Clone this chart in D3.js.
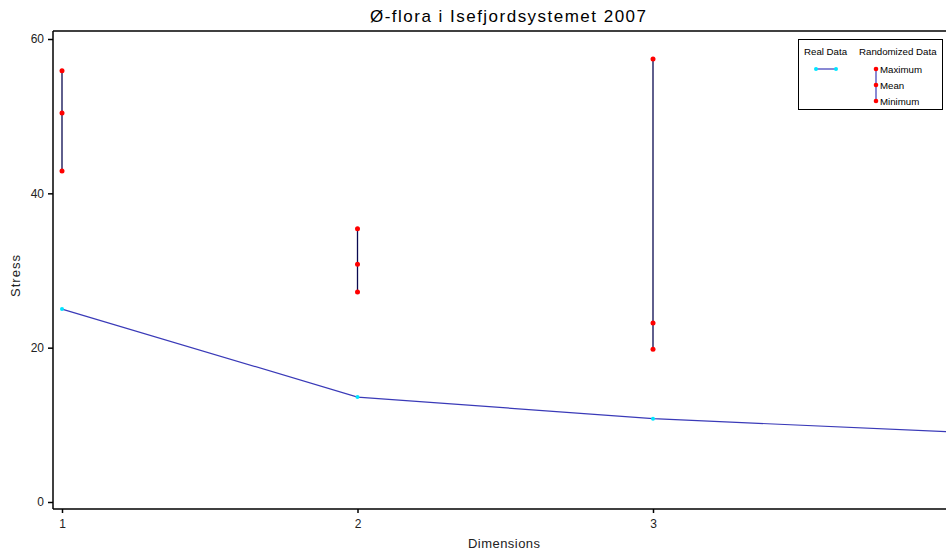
<!DOCTYPE html>
<html><head><meta charset="utf-8">
<script src="https://cdn.jsdelivr.net/npm/d3@7"></script>
<style>body{margin:0;background:#fff}svg{display:block;font-family:"Liberation Sans",Arial,sans-serif}</style>
</head><body><svg id="c" width="946" height="551"></svg>
<script>
const dimensions = [1, 2, 3, 4];
const realStress = [25.0, 13.6, 10.8, 9.1];
const randDims = [1, 2, 3];
const randMax = [55.9, 35.4, 57.4];
const randMean = [50.4, 30.8, 23.2];
const randMin = [42.9, 27.2, 19.8];
const yTicks = [0, 20, 40, 60];
const xTicks = [1, 2, 3];

const svg = d3.select("#c");
const x = d3.scaleLinear().domain([1, 4]).range([62, 948.5]);
const y = d3.scaleLinear().domain([0, 60]).range([502, 39]);
const pLeft = 53, pTop = 31, pBottom = 509;

// frame
svg.append("line").attr("x1", pLeft).attr("x2", 946).attr("y1", pTop).attr("y2", pTop).attr("stroke", "#000").attr("stroke-width", 1.5);
// y axis
const ya = svg.append("g").attr("transform", `translate(${pLeft},0)`)
  .call(d3.axisLeft(y).tickValues(yTicks).tickSize(5).tickPadding(4));
ya.select(".domain").remove();
ya.append("line").attr("x1", 0).attr("x2", 0).attr("y1", pTop).attr("y2", pBottom).attr("stroke", "#000").attr("stroke-width", 1.5);
ya.selectAll("text").attr("font-size", 12).attr("fill", "#222").attr("font-family", "Liberation Sans, Arial, sans-serif");
ya.selectAll(".tick line").attr("stroke-width", 1.5);
// x axis
const xa = svg.append("g").attr("transform", `translate(0,${pBottom})`)
  .call(d3.axisBottom(x).tickValues(xTicks).tickFormat(d3.format("d")).tickSize(4).tickPadding(6));
xa.select(".domain").remove();
xa.append("line").attr("x1", pLeft).attr("x2", 946).attr("y1", 0).attr("y2", 0).attr("stroke", "#000").attr("stroke-width", 1.5);
xa.selectAll("text").attr("font-size", 12).attr("fill", "#222").attr("font-family", "Liberation Sans, Arial, sans-serif");
xa.selectAll(".tick line").attr("stroke-width", 1.5);

// title and labels
svg.append("text").attr("x", 370).attr("y", 22).attr("font-size", 17).attr("fill", "#000")
  .attr("textLength", 276).attr("lengthAdjust", "spacing").text("Ø-flora i Isefjordsystemet 2007");
svg.append("text").attr("x", 468).attr("y", 548).attr("font-size", 13).attr("fill", "#222")
  .attr("textLength", 72).attr("lengthAdjust", "spacing").text("Dimensions");
svg.append("text").attr("transform", "translate(20,297) rotate(-90)").attr("font-size", 13).attr("fill", "#222")
  .attr("textLength", 42).attr("lengthAdjust", "spacing").text("Stress");

const plot = svg.append("g");
// real data line
plot.append("path").datum(dimensions.map((d, i) => [d, realStress[i]]))
  .attr("d", d3.line().x(d => x(d[0])).y(d => y(d[1])))
  .attr("fill", "none").attr("stroke", "#3a3ab8").attr("stroke-width", 1.2);
plot.selectAll("circle.real").data(dimensions.map((d, i) => [d, realStress[i]])).join("circle")
  .attr("class", "real").attr("cx", d => x(d[0])).attr("cy", d => y(d[1])).attr("r", 2).attr("fill", "#00e5ff");

// randomized ranges
randDims.forEach((d, i) => {
  plot.append("line").attr("x1", x(d)).attr("x2", x(d)).attr("y1", y(randMax[i])).attr("y2", y(randMin[i]))
    .attr("stroke", "#0a0a50").attr("stroke-width", 1.3);
  [randMax[i], randMean[i], randMin[i]].forEach(v => {
    plot.append("circle").attr("cx", x(d)).attr("cy", y(v)).attr("r", 2.5).attr("fill", "#ff0000");
  });
});

// legend
const lg = svg.append("g").attr("font-size", 9.7).attr("fill", "#000");
lg.append("rect").attr("x", 798.5).attr("y", 39.5).attr("width", 144).attr("height", 70).attr("fill", "#fff").attr("stroke", "#000").attr("stroke-width", 1);
lg.append("text").attr("x", 804).attr("y", 55).text("Real Data");
lg.append("text").attr("x", 859).attr("y", 55).text("Randomized Data");
lg.append("line").attr("x1", 816).attr("x2", 836).attr("y1", 69).attr("y2", 69).attr("stroke", "#3a3ab8").attr("stroke-width", 1.2);
[816, 836].forEach(cx => lg.append("circle").attr("cx", cx).attr("cy", 69).attr("r", 2).attr("fill", "#00e5ff"));
lg.append("line").attr("x1", 876).attr("x2", 876).attr("y1", 69).attr("y2", 101).attr("stroke", "#3a3ab8").attr("stroke-width", 1.2);
const legItems = ["Maximum", "Mean", "Minimum"];
legItems.forEach((t, i) => {
  lg.append("circle").attr("cx", 876).attr("cy", 69 + i * 16).attr("r", 2.3).attr("fill", "#ff0000");
  lg.append("text").attr("x", 880).attr("y", 72.5 + i * 16).text(t);
});
</script></body></html>
